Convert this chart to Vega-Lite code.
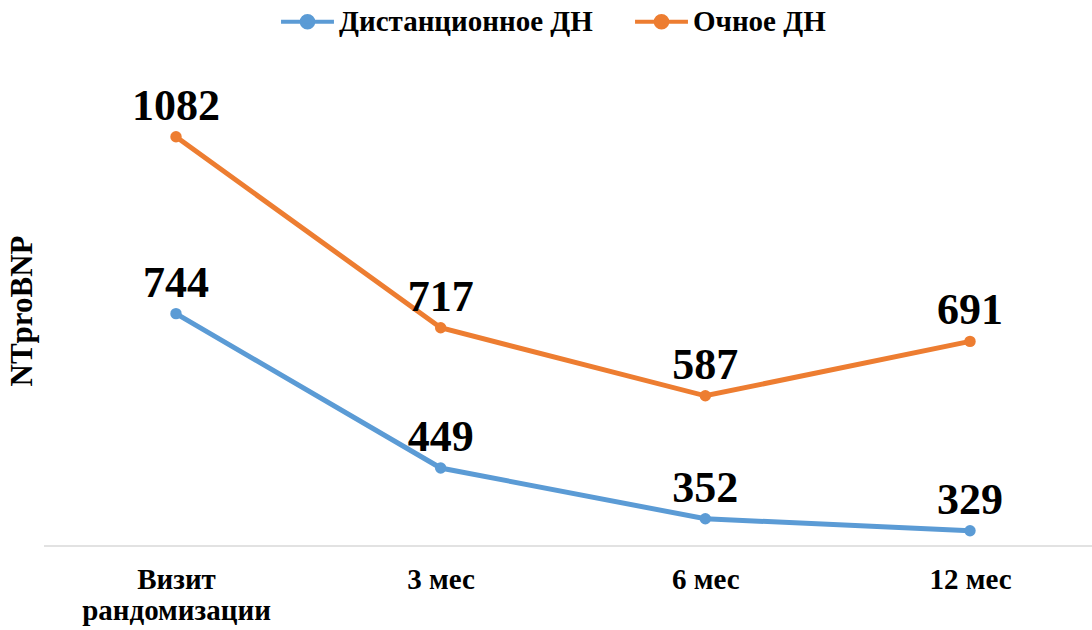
{
"$schema": "https://vega.github.io/schema/vega-lite/v6.json",
"width": 1048,
"height": 471,
"autosize": {"type": "none"},
"padding": {"left": 44, "top": 75, "right": 0, "bottom": 84},
"background": "white",
"config": {"view": {"stroke": null}, "font": "Liberation Serif"},
"data": {"values": [
{"visit": "Визит рандомизации", "group": "Дистанционное ДН", "value": 744},
{"visit": "3 мес", "group": "Дистанционное ДН", "value": 449},
{"visit": "6 мес", "group": "Дистанционное ДН", "value": 352},
{"visit": "12 мес", "group": "Дистанционное ДН", "value": 329},
{"visit": "Визит рандомизации", "group": "Очное ДН", "value": 1082},
{"visit": "3 мес", "group": "Очное ДН", "value": 717},
{"visit": "6 мес", "group": "Очное ДН", "value": 587},
{"visit": "12 мес", "group": "Очное ДН", "value": 691}
]},
"layer": [
{
"data": {"values": [{"value": 300}]},
"mark": {"type": "rule", "color": "#d9d9d9", "strokeWidth": 1.5},
"encoding": {"y": {"field": "value", "type": "quantitative", "scale": {"domain": [300, 1200], "nice": false, "zero": false},
"axis": {"labels": false, "ticks": false, "domain": false, "grid": false, "title": "NTproBNP", "titleFont": "Liberation Serif", "titleFontWeight": "bold", "titleFontSize": 31, "titleColor": "#000000", "titlePadding": 6}}}
},
{
"mark": {"type": "line", "strokeWidth": 5},
"encoding": {
"x": {"field": "visit", "type": "ordinal", "sort": ["Визит рандомизации", "3 мес", "6 мес", "12 мес"], "scale": {"type": "point", "range": [132, 926], "padding": 0},
"axis": {"title": null, "domain": false, "ticks": false, "labelAngle": 0, "labelFont": "Liberation Serif", "labelFontWeight": "bold", "labelFontSize": 29, "labelColor": "#000000", "labelPadding": 19, "labelLineHeight": 31, "labelBaseline": "top", "labelLimit": 400,
"labelExpr": "datum.value === 'Визит рандомизации' ? ['Визит', 'рандомизации'] : datum.value"}},
"y": {"field": "value", "type": "quantitative", "scale": {"domain": [300, 1200], "nice": false, "zero": false},
"axis": {"labels": false, "ticks": false, "domain": false, "grid": false, "title": "NTproBNP", "titleFont": "Liberation Serif", "titleFontWeight": "bold", "titleFontSize": 31, "titleColor": "#000000", "titlePadding": 6}},
"color": {"field": "group", "type": "nominal", "scale": {"domain": ["Дистанционное ДН", "Очное ДН"], "range": ["#5B9BD5", "#ED7D31"]},
"legend": {"title": null, "orient": "none", "legendX": 235, "legendY": -82, "direction": "horizontal",
"symbolType": "M-1,0L1,0M-0.22,0A0.22,0.22 0 1,1 0.22,0A0.22,0.22 0 1,1 -0.22,0Z", "symbolSize": 2800, "symbolStrokeWidth": 4,
"labelFont": "Liberation Serif", "labelFontWeight": "bold", "labelFontSize": 29, "labelColor": "#000000", "labelOffset": 3, "columnPadding": 34, "labelLimit": 400,
"encode": {"symbols": {"update": {"fill": {"scale": "color", "field": "value"}, "fillOpacity": {"value": 1}}}}}}
}
},
{
"mark": {"type": "point", "filled": true, "size": 130, "opacity": 1},
"encoding": {
"x": {"field": "visit", "type": "ordinal", "sort": ["Визит рандомизации", "3 мес", "6 мес", "12 мес"]},
"y": {"field": "value", "type": "quantitative"},
"color": {"field": "group", "type": "nominal"}
}
},
{
"mark": {"type": "text", "font": "Liberation Serif", "fontWeight": "bold", "fontSize": 44, "color": "#000000", "baseline": "alphabetic", "dy": -17},
"encoding": {
"x": {"field": "visit", "type": "ordinal", "sort": ["Визит рандомизации", "3 мес", "6 мес", "12 мес"]},
"y": {"field": "value", "type": "quantitative"},
"text": {"field": "value", "type": "quantitative"}
}
}
]
}
